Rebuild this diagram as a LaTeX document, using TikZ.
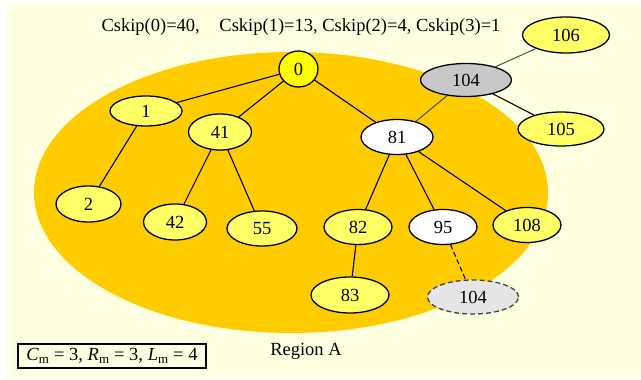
\documentclass[tikz,border=0pt]{standalone}
\usepackage{fontspec}
\setmainfont{Liberation Serif}
\usetikzlibrary{shapes.geometric}

\definecolor{cream}{HTML}{FFFFE1}
\definecolor{regionorange}{HTML}{FFCC00}
\definecolor{nodeyellow}{HTML}{FFFF66}
\definecolor{rootyellow}{HTML}{FFFF00}
\definecolor{headgray}{HTML}{C8C8C8}
\definecolor{newgray}{HTML}{E6E6E6}

\begin{document}
\begin{tikzpicture}[x=1pt,y=1pt]
	\tikzstyle{every node}+=[inner sep=0pt,font=\fontsize{18.5}{20}\selectfont]
	\tikzstyle{dev}=[ellipse,draw=black,line width=1.3pt,fill=nodeyellow,minimum width=68pt,minimum height=35pt]
	\tikzstyle{link}=[black,line width=1.1pt]
	\tikzstyle{thinlink}=[black!75,line width=0.9pt]
	\tikzstyle{longdash}=[dash pattern=on 5pt off 3pt]
	\useasboundingbox (0,0) rectangle (641,-380);
	\fill [cream] (8,-3) rectangle (641,-379);
	\fill [regionorange] (291,-192.5) ellipse [x radius=257pt,y radius=140.5pt];
	\node (title) at (301,-27) {Cskip(0)=40,\hspace{15pt} Cskip(1)=13, Cskip(2)=4, Cskip(3)=1};
	\node (region) at (306,-351) {Region A};
	\node [draw,line width=1.2pt,fill=cream,minimum width=188pt,minimum height=24pt] (params) at (112,-356) {\textit{C}\textsubscript{m} = 3, \textit{R}\textsubscript{m} = 3, \textit{L}\textsubscript{m} = 4};
	\node [dev,fill=rootyellow,minimum width=39pt,minimum height=36pt] (n0) at (298.5,-69) {0};
	\node [dev,minimum width=72pt,minimum height=30pt] (n1) at (146,-111) {1};
	\node [dev,minimum width=63pt,minimum height=36pt] (n41) at (220,-132) {41};
	\node [dev,fill=white,minimum width=72pt] (n81) at (397,-137) {81};
	\node [dev,fill=headgray,minimum width=91pt,minimum height=33pt] (n104) at (466,-80) {104};
	\node [dev,minimum width=87pt,minimum height=36pt] (n106) at (566,-35) {106};
	\node [dev,minimum width=86pt,minimum height=34pt] (n105) at (561,-129) {105};
	\node [dev,minimum width=65pt,minimum height=36pt] (n2) at (88.5,-204) {2};
	\node [dev,minimum width=63pt,minimum height=36pt] (n42) at (175,-222) {42};
	\node [dev,minimum width=70pt] (n55) at (262,-228.5) {55};
	\node [dev] (n82) at (358,-227) {82};
	\node [dev,fill=white] (n95) at (443,-227) {95};
	\node [dev] (n108) at (527,-225) {108};
	\node [dev,minimum width=78pt,minimum height=36pt] (n83) at (350,-295) {83};
	\node [dev,fill=newgray,draw=black!75,longdash,minimum width=91pt,minimum height=34pt] (n104new) at (473,-297) {104};
	\draw [link] (n0) -- (n1);
	\draw [link] (n0) -- (n41);
	\draw [link] (n0) -- (n81);
	\draw [link] (n1) -- (n2);
	\draw [link] (n41) -- (n42);
	\draw [link] (n41) -- (n55);
	\draw [link] (n81) -- (n82);
	\draw [link] (n81) -- (n95);
	\draw [link] (n81) -- (n108);
	\draw [link] (n82) -- (n83);
	\draw [link,longdash] (n95) -- (n104new);
	\draw [link] (n104) -- (n105);
	\draw [thinlink] (n104) -- (n106);
	\draw [thinlink] (n104) -- (n81);
\end{tikzpicture}
\end{document}
